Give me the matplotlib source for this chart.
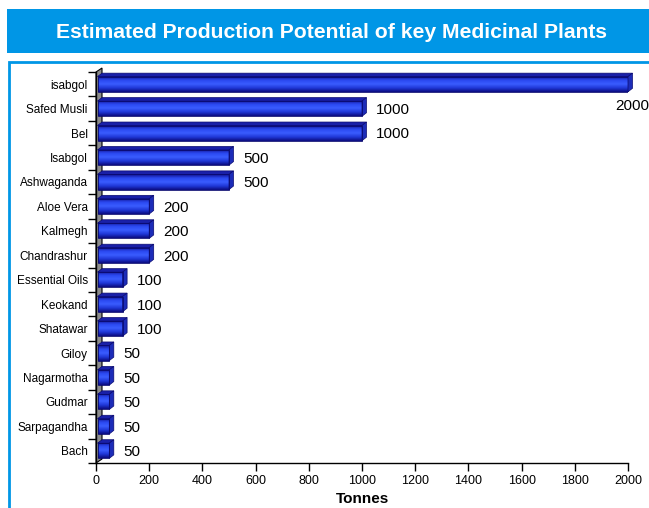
import numpy as np
import matplotlib.pyplot as plt
from matplotlib.patches import Polygon, Rectangle
from matplotlib.colors import LinearSegmentedColormap

plants = ['isabgol', 'Safed Musli', 'Bel', 'Isabgol', 'Ashwaganda', 'Aloe Vera',
          'Kalmegh', 'Chandrashur', 'Essential Oils', 'Keokand', 'Shatawar',
          'Giloy', 'Nagarmotha', 'Gudmar', 'Sarpagandha', 'Bach']
tonnes = [2000, 1000, 1000, 500, 500, 200, 200, 200, 100, 100, 100,
          50, 50, 50, 50, 50]
xticks = list(range(0, 2001, 200))

plt.rcParams['font.family'] = ['Liberation Sans', 'DejaVu Sans']

fig = plt.figure(figsize=(6.49, 5.08), dpi=100)

# title banner and frame
blue = '#0096e6'
fig.patches.append(Rectangle((7/649, 1 - 53/508), 1, 44/508, transform=fig.transFigure,
                             facecolor=blue, edgecolor='none'))
fig.text(331/649, 1 - 32/508, 'Estimated Production Potential of key Medicinal Plants',
         color='white', fontsize=15.2, fontweight='bold', ha='center', va='center')
fig.patches.append(Rectangle((9/649, -0.1), 1, 1.1 - 62/508, transform=fig.transFigure,
                             facecolor='none', edgecolor=blue, linewidth=2))

ax = fig.add_axes([96/649, 45/508, 532/649, 391/508])
n = len(plants)
ax.set_xlim(0, 2000)
ax.set_ylim(n - 0.5, -0.5)

# depth of the 3d effect in data units
px_x = 2000 / 532
px_y = n / 391
dx = 4.5 * px_x
dy = 3.5 * px_y
wx = 6 * px_x
wy = 4 * px_y

# grey wall
ax.add_patch(Polygon([(0, n - 0.5), (wx, n - 0.5 - wy), (wx, -0.5 - wy), (0, -0.5)],
                     closed=True, facecolor='#8c8c8c', edgecolor='black', lw=0.8,
                     clip_on=False, zorder=1))

grad = LinearSegmentedColormap.from_list('bar', ['#10108a', '#2a48f0', '#3a5cff', '#2038d8', '#0c0c80'])
img = np.linspace(0, 1, 50).reshape(-1, 1)
h = 0.62
ys = np.arange(n)
x0 = 1.5 * px_x
for y, v in zip(ys, tonnes):
    y0, y1 = y - h / 2, y + h / 2
    ax.imshow(img, cmap=grad, extent=(x0, v, y1, y0), aspect='auto', zorder=3,
              interpolation='bilinear')
    ax.add_patch(Rectangle((x0, y0), v - x0, h, facecolor='none', edgecolor='#0a0a70', lw=0.6, zorder=4))
    ax.add_patch(Polygon([(x0, y0), (v, y0), (v + dx, y0 - dy), (x0 + dx, y0 - dy)],
                         closed=True, facecolor='#1a20a8', edgecolor='#0a0a70', lw=0.5,
                         zorder=3, clip_on=False))
    ax.add_patch(Polygon([(v, y0), (v + dx, y0 - dy), (v + dx, y1 - dy), (v, y1)],
                         closed=True, facecolor='#1c2cb8', edgecolor='#0a0a70', lw=0.5,
                         zorder=3, clip_on=False))
    if v == max(tonnes):
        ax.annotate(str(v), (v, y), xytext=(3, -16), textcoords='offset points',
                    ha='center', va='center', fontsize=11, annotation_clip=False)
    else:
        ax.annotate(str(v), (v, y), xytext=(10, -1), textcoords='offset points',
                    ha='left', va='center', fontsize=11, annotation_clip=False)

ax.set_xlim(0, 2000)
ax.set_ylim(n - 0.5, -0.5)

for s in ['top', 'right']:
    ax.spines[s].set_visible(False)
ax.spines['left'].set_linewidth(1)
ax.spines['bottom'].set_linewidth(1)
ax.spines['left'].set_zorder(5)

ax.set_xticks(xticks)
ax.set_xticklabels([str(t) for t in xticks], fontsize=9)
ax.set_yticks(np.arange(-0.5, n, 1), minor=False)
ax.set_yticklabels([])
ax.set_yticks(ys, minor=True)
ax.set_yticklabels(plants, minor=True, fontsize=8.5)
ax.tick_params(axis='y', which='minor', length=0, pad=6)
ax.tick_params(axis='y', which='major', length=6, width=1, direction='out')
ax.tick_params(axis='x', length=6, width=1, direction='out', pad=3)
ax.set_xlabel('Tonnes', fontsize=11, fontweight='bold', labelpad=3.5)

fig.savefig('out.png', dpi=100)
